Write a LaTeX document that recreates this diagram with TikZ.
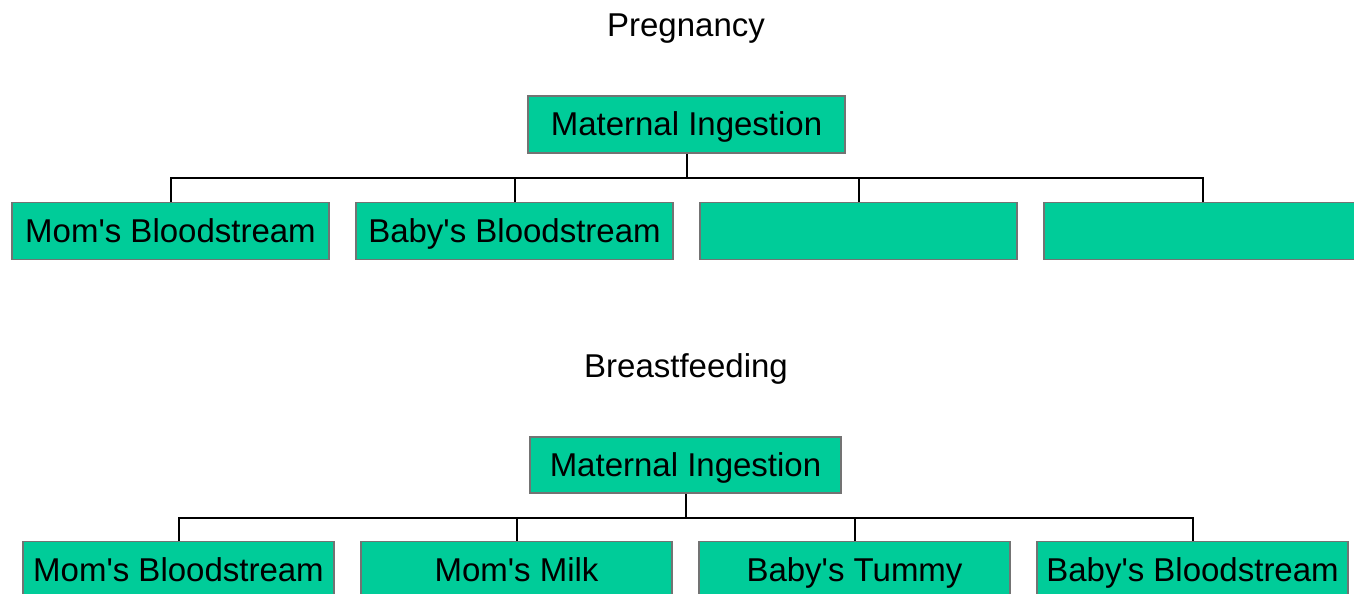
\documentclass[tikz,border=0pt]{standalone}
\usepackage{fontspec}
\setmainfont{Liberation Sans}
\begin{document}
\begin{tikzpicture}[x=0.5pt,y=-0.5pt,
  box/.style={draw=gray!90!black, fill=boxgreen, line width=0.8pt, inner sep=0pt,
    minimum height=28.5pt, text height=12pt, text depth=1pt,
    font=\fontsize{16.5}{19}\selectfont},
  wideA/.style={minimum width=158.5pt},
  wideB/.style={minimum width=155.5pt},
  title/.style={font=\fontsize{16.5}{19}\selectfont, inner sep=0pt, anchor=base},
  link/.style={draw=black, line width=1pt}]
\definecolor{boxgreen}{RGB}{0,204,153}
\useasboundingbox (0,0) rectangle (1354,594);
% Pregnancy
\node[title] (t1) at (686,36) {Pregnancy};
\node[box,wideA] (m1) at (686.5,124.5) {Maternal Ingestion};
\node[box,wideA] (p1) at (170.5,231) {Mom\textquotesingle s Bloodstream};
\node[box,wideA] (p2) at (514.5,231) {Baby\textquotesingle s Bloodstream};
\node[box,wideA] (p3) at (858.5,231) {};
\node[box,wideA] (p4) at (1202.5,231) {};
\coordinate (j1) at (686.5,178);
\draw[link] (m1.south) -- (j1);
\draw[link] (j1) -| (p1.north);
\draw[link] (j1) -| (p2.north);
\draw[link] (j1) -| (p3.north);
\draw[link] (j1) -| (p4.north);
% Breastfeeding
\node[title] (t2) at (686,377) {Breastfeeding};
\node[box,wideB,minimum height=28pt] (m2) at (685.5,465) {Maternal Ingestion};
\node[box,wideB] (b1) at (178.5,570) {Mom\textquotesingle s Bloodstream};
\node[box,wideB] (b2) at (516.5,570) {Mom\textquotesingle s Milk};
\node[box,wideB] (b3) at (854.5,570) {Baby\textquotesingle s Tummy};
\node[box,wideB] (b4) at (1192.5,570) {Baby\textquotesingle s Bloodstream};
\coordinate (j2) at (685.5,517.5);
\draw[link] (m2.south) -- (j2);
\draw[link] (j2) -| (b1.north);
\draw[link] (j2) -| (b2.north);
\draw[link] (j2) -| (b3.north);
\draw[link] (j2) -| (b4.north);
\end{tikzpicture}
\end{document}
